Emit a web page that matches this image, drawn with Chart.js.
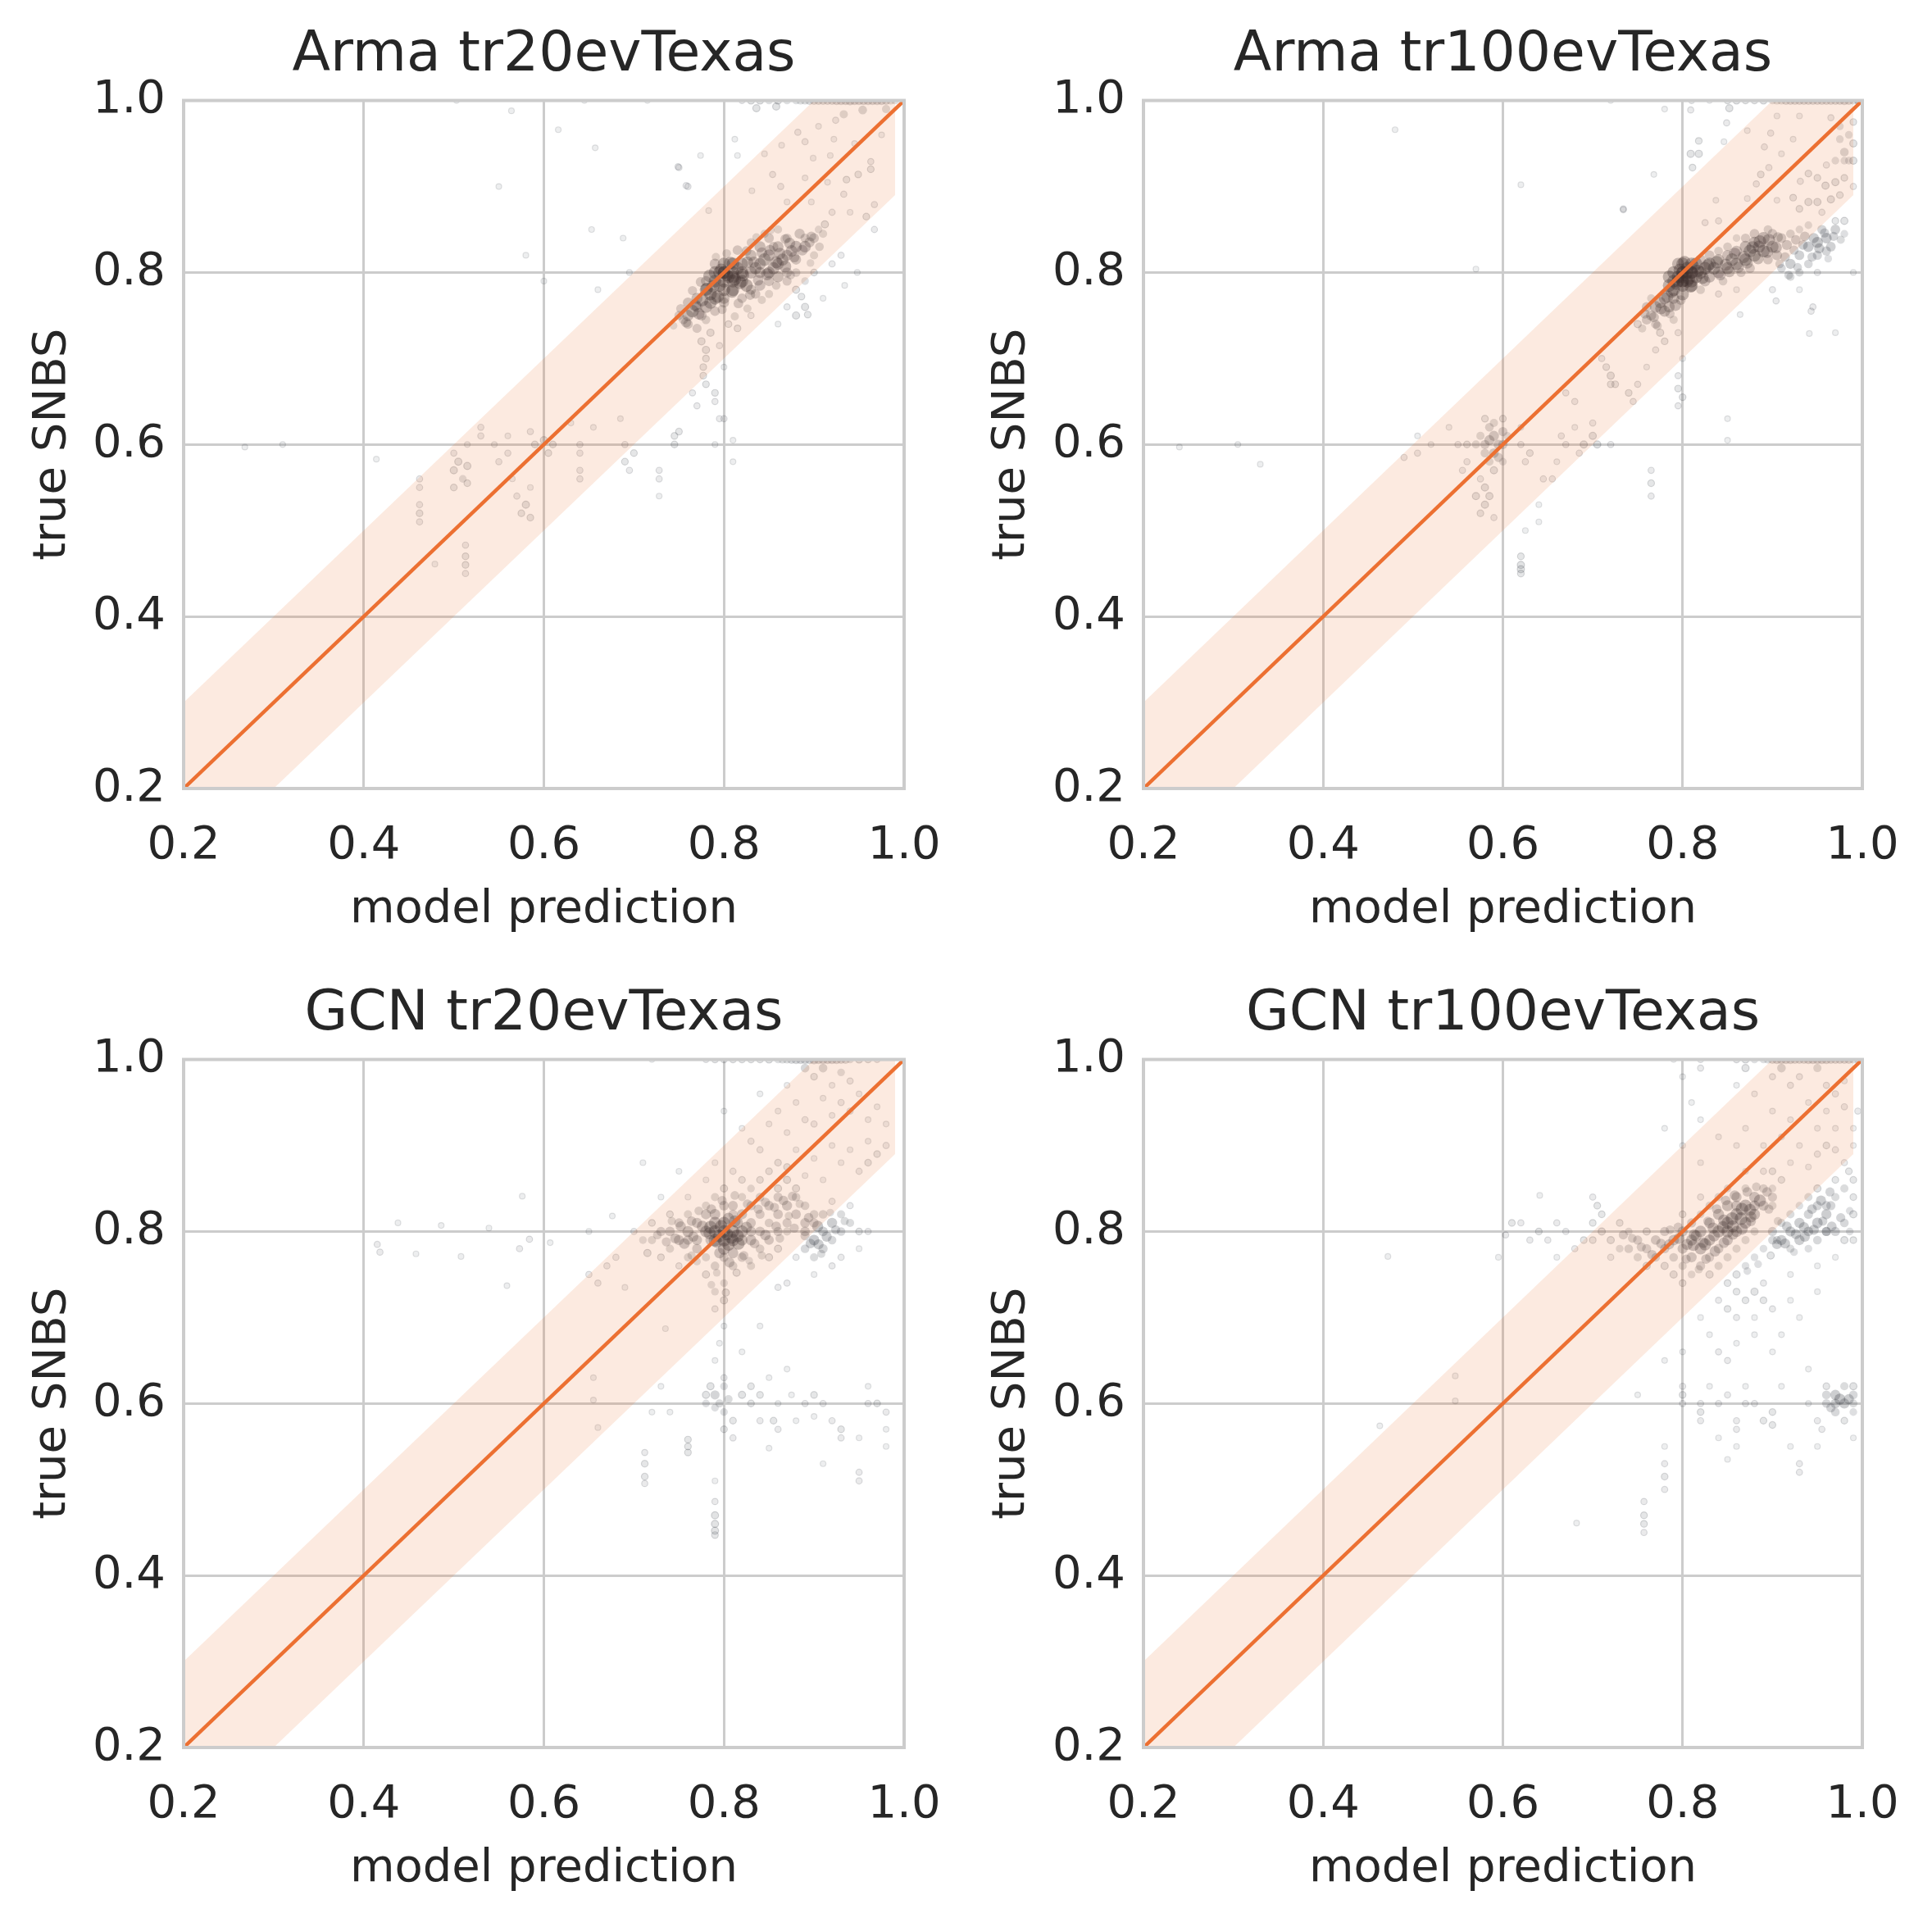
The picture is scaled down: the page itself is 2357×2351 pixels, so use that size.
<!DOCTYPE html>
<html>
<head>
<meta charset="utf-8">
<script src="https://cdn.jsdelivr.net/npm/chart.js@4.4.1/dist/chart.umd.min.js"></script>
<style>
  body { margin: 0; background: #ffffff; width: 2357px; height: 2351px; position: relative; overflow: hidden; }
  canvas { position: absolute; }
</style>
</head>
<body>
<canvas id="armaTr20" width="1187" height="1170" style="left:0px;top:0px"></canvas>
<canvas id="armaTr100" width="1187" height="1170" style="left:1170px;top:0px"></canvas>
<canvas id="gcnTr20" width="1187" height="1170" style="left:0px;top:1170px"></canvas>
<canvas id="gcnTr100" width="1187" height="1170" style="left:1170px;top:1170px"></canvas>
<script>
// axis ticks and the +-0.1 tolerance band around the ideal line
var tickValues = [0.2, 0.4, 0.6, 0.8, 1.0];
var axisMin = 0.2, axisMax = 1.0;
var bandMargin = 0.1;
var bandFrom = 0.1, bandTo = 0.99;

var panelTitles = ['Arma tr20evTexas', 'Arma tr100evTexas', 'GCN tr20evTexas', 'GCN tr100evTexas'];

// [model prediction, true SNBS]
var armaTr20 = [
  [0.80,0.80],[0.81,0.79],[0.79,0.79],[0.80,0.78],[0.82,0.80],[0.81,0.81],[0.79,0.80],[0.80,0.79],[0.81,0.78],[0.78,0.78],
  [0.82,0.79],[0.80,0.81],[0.79,0.77],[0.83,0.80],[0.81,0.80],[0.80,0.77],[0.78,0.79],[0.82,0.81],[0.805,0.795],[0.795,0.785],
  [0.815,0.805],[0.785,0.775],[0.825,0.785],[0.80,0.765],[0.79,0.81],[0.80,0.80],[0.81,0.795],[0.795,0.80],
  [0.803,0.797],[0.797,0.803],[0.812,0.792],[0.788,0.784],[0.807,0.811],[0.793,0.772],[0.818,0.788],[0.784,0.796],[0.826,0.812],[0.776,0.768],
  [0.768,0.762],[0.772,0.752],[0.758,0.742],[0.781,0.781],[0.809,0.778],[0.821,0.797],[0.833,0.812],[0.842,0.823],[0.851,0.826],[0.862,0.822],
  [0.873,0.834],[0.838,0.791],[0.848,0.798],[0.858,0.812],[0.868,0.807],[0.878,0.818],[0.887,0.826],[0.829,0.774],[0.816,0.764],[0.798,0.757],
  [0.803,0.822],[0.815,0.826],[0.791,0.818],[0.774,0.789],[0.765,0.779],[0.752,0.758],[0.744,0.738],[0.836,0.841],[0.852,0.849],[0.868,0.839],
  [0.884,0.845],[0.897,0.842],[0.912,0.856],[0.906,0.83],[0.896,0.811],[0.874,0.797],[0.858,0.785],[0.842,0.768],[0.826,0.758],[0.812,0.749],
  [0.77,0.76],[0.76,0.75],[0.78,0.76],[0.77,0.77],[0.76,0.74],[0.775,0.75],[0.785,0.765],[0.765,0.755],[0.755,0.745],[0.78,0.745],
  [0.77,0.735],[0.79,0.755],[0.76,0.765],[0.75,0.75],[0.785,0.73],
  [0.84,0.81],[0.85,0.82],[0.86,0.81],[0.84,0.80],[0.85,0.80],[0.87,0.82],[0.86,0.83],[0.88,0.83],[0.83,0.82],[0.84,0.83],
  [0.87,0.80],[0.85,0.79],[0.86,0.795],[0.88,0.815],[0.89,0.83],[0.89,0.84],[0.90,0.84],[0.87,0.84],[0.86,0.85],[0.85,0.84],
  [0.83,0.78],[0.84,0.785],[0.82,0.77],[0.835,0.775],[0.88,0.80],[0.90,0.82],[0.91,0.845],[0.85,0.775],[0.87,0.79],[0.83,0.835],
  [0.845,0.845],[0.825,0.825],[0.855,0.83],[0.875,0.825],[0.865,0.815],[0.845,0.815],[0.835,0.805],[0.855,0.805],[0.895,0.835],[0.905,0.85],
  [0.88,0.78],[0.89,0.79],[0.90,0.80],[0.87,0.76],[0.92,0.81],[0.93,0.82],[0.91,0.77],[0.86,0.74],[0.83,0.75],[0.89,0.76],
  [0.88,0.75],[0.948,0.80],[0.934,0.785],[0.886,0.772],[0.893,0.751],
  [0.775,0.72],[0.78,0.71],[0.78,0.70],[0.795,0.715],[0.80,0.69],[0.805,0.74],[0.815,0.735],
  [0.924,0.977],[0.933,0.984],[0.954,0.989],[0.963,0.929],[0.918,0.936],[0.89,0.952],[0.864,0.948],[0.845,0.938],[0.882,0.963],[0.899,0.933],
  [0.854,0.914],[0.89,0.91],[0.915,0.905],[0.936,0.908],[0.831,0.895],[0.863,0.90],[0.87,0.882],[0.897,0.882],[0.933,0.891],[0.949,0.914],
  [0.967,0.879],[0.958,0.865],[0.967,0.85],[0.812,0.955],[0.774,0.936],[0.75,0.922],[0.758,0.901],[0.836,0.991],[0.858,0.993],[0.815,0.936],
  [0.783,0.872],[0.922,0.955],[0.963,0.92],[0.975,0.96],[0.98,0.99],[0.945,0.95],[0.905,0.97],[0.94,0.87],[0.92,0.87],
  [0.82,1.0],[0.83,1.0],[0.84,1.0],[0.85,1.0],[0.86,1.0],[0.87,1.0],[0.88,1.0],[0.89,1.0],[0.90,1.0],[0.91,1.0],
  [0.92,1.0],[0.93,1.0],[0.94,1.0],[0.95,1.0],[0.96,1.0],[0.97,1.0],[0.98,1.0],[0.99,1.0],[0.885,1.0],[0.895,1.0],
  [0.905,1.0],[0.915,1.0],[0.925,1.0],[0.935,1.0],[0.945,1.0],[0.955,1.0],[0.965,1.0],[0.975,1.0],[0.985,1.0],
  [0.462,0.56],[0.462,0.55],[0.462,0.53],[0.462,0.52],[0.462,0.51],[0.479,0.461],[0.50,0.59],[0.50,0.57],[0.50,0.55],[0.505,0.58],
  [0.51,0.56],[0.515,0.575],[0.515,0.555],[0.515,0.60],[0.513,0.483],[0.513,0.47],[0.513,0.46],[0.513,0.45],[0.53,0.62],[0.53,0.61],
  [0.545,0.60],[0.55,0.58],[0.56,0.59],[0.56,0.61],[0.565,0.56],[0.57,0.54],[0.575,0.52],[0.58,0.53],[0.585,0.55],[0.585,0.515],
  [0.585,0.615],[0.59,0.60],[0.60,0.605],[0.61,0.60],[0.605,0.59],[0.64,0.60],[0.64,0.59],[0.64,0.57],[0.64,0.56],[0.63,0.625],
  [0.655,0.62],[0.685,0.63],[0.69,0.60],[0.69,0.58],[0.695,0.57],[0.70,0.59],[0.728,0.57],[0.728,0.56],[0.728,0.54],[0.745,0.61],
  [0.745,0.60],[0.75,0.615],[0.777,0.69],[0.777,0.68],[0.78,0.67],[0.79,0.66],[0.79,0.65],[0.79,0.60],[0.795,0.63],[0.80,0.63],
  [0.81,0.605],[0.81,0.58],[0.765,0.66],[0.77,0.645],
  [0.268,0.597],[0.31,0.60],[0.414,0.583],[0.55,0.90],[0.58,0.82],[0.60,0.79],[0.564,0.988],[0.616,0.966],[0.657,0.945],[0.653,0.85],
  [0.749,0.923],[0.76,0.90],[0.688,0.84],[0.695,0.80],[0.66,0.78],[0.715,1.0],[0.503,1.0],[0.645,1.0]
];

var armaTr100 = [
  [0.80,0.80],[0.80,0.79],[0.81,0.80],[0.79,0.79],[0.80,0.81],[0.81,0.79],[0.795,0.795],[0.805,0.805],[0.79,0.78],[0.81,0.81],
  [0.80,0.785],[0.815,0.795],[0.785,0.785],[0.82,0.80],[0.80,0.775],[0.79,0.80],[0.805,0.79],[0.795,0.81],[0.815,0.81],[0.785,0.795],
  [0.825,0.805],[0.80,0.795],[0.81,0.785],[0.79,0.77],[0.82,0.815],[0.80,0.80],[0.805,0.80],[0.795,0.79],[0.80,0.79],[0.81,0.80],
  [0.803,0.797],[0.797,0.803],[0.807,0.793],[0.793,0.787],[0.812,0.806],[0.788,0.778],[0.802,0.812],[0.817,0.802],[0.798,0.768],[0.783,0.772],
  [0.776,0.758],[0.768,0.748],[0.772,0.738],[0.758,0.752],[0.786,0.752],[0.792,0.762],[0.809,0.784],[0.822,0.794],[0.828,0.808],[0.838,0.812],
  [0.848,0.809],[0.858,0.822],[0.868,0.818],[0.878,0.829],[0.886,0.836],[0.896,0.838],[0.906,0.841],[0.916,0.832],[0.926,0.838],[0.936,0.842],
  [0.842,0.797],[0.852,0.801],[0.862,0.806],[0.872,0.811],[0.884,0.816],[0.894,0.824],[0.904,0.829],[0.914,0.818],[0.924,0.826],[0.934,0.832],
  [0.946,0.84],[0.958,0.846],[0.968,0.842],[0.952,0.828],[0.962,0.816],[0.976,0.838],[0.944,0.818],[0.928,0.806],[0.918,0.797],[0.908,0.81],
  [0.77,0.76],[0.775,0.765],[0.765,0.75],[0.78,0.77],[0.76,0.745],[0.78,0.755],[0.77,0.74],[0.785,0.76],[0.755,0.735],[0.765,0.77],
  [0.775,0.73],[0.79,0.745],[0.76,0.76],[0.78,0.72],[0.75,0.74],[0.795,0.73],[0.77,0.71],
  [0.83,0.81],[0.84,0.815],[0.85,0.82],[0.86,0.825],[0.87,0.83],[0.88,0.835],[0.89,0.84],[0.90,0.83],[0.84,0.80],[0.85,0.805],
  [0.86,0.81],[0.87,0.815],[0.88,0.82],[0.89,0.825],[0.83,0.795],[0.85,0.83],[0.87,0.84],[0.88,0.845],[0.86,0.84],[0.90,0.845],
  [0.91,0.84],[0.92,0.845],[0.84,0.825],[0.83,0.82],[0.825,0.79],[0.845,0.79],[0.865,0.80],[0.875,0.805],[0.895,0.815],[0.905,0.82],
  [0.855,0.815],[0.835,0.805],[0.875,0.825],[0.885,0.83],[0.895,0.85],[0.93,0.85],[0.94,0.855],[0.82,0.78],[0.84,0.775],[0.86,0.78],
  [0.91,0.805],[0.92,0.81],[0.93,0.82],[0.94,0.83],[0.95,0.835],[0.96,0.84],[0.97,0.85],[0.95,0.82],[0.96,0.825],[0.93,0.80],
  [0.97,0.86],[0.98,0.845],[0.94,0.81],[0.92,0.795],[0.955,0.85],[0.965,0.83],[0.98,0.86],[0.90,0.78],[0.99,0.80],[0.95,0.80],
  [0.93,0.78],[0.945,0.76],[0.97,0.73],[0.941,0.729],[0.943,0.755],[0.904,0.767],[0.864,0.751],
  [0.965,0.98],[0.975,0.97],[0.985,0.96],[0.98,0.94],[0.97,0.93],[0.99,0.95],[0.985,0.93],[0.975,0.955],[0.99,0.975],[0.96,0.925],
  [0.97,0.905],[0.98,0.91],[0.99,0.90],[0.965,0.885],[0.955,0.87],[0.975,0.89],[0.98,0.93],[0.99,0.93],
  [0.898,0.962],[0.91,0.938],[0.923,0.955],[0.905,0.982],[0.93,0.982],[0.872,0.965],[0.891,0.946],[0.896,0.922],[0.887,0.914],[0.882,0.903],
  [0.872,0.886],[0.905,0.884],[0.923,0.887],[0.931,0.906],[0.94,0.915],[0.95,0.91],[0.959,0.901],[0.94,0.882],[0.95,0.882],[0.93,0.874],
  [0.849,0.974],[0.846,0.952],[0.809,0.938],[0.818,0.938],[0.811,0.922],[0.809,0.989],[0.852,0.991],[0.818,0.953],[0.768,0.914],[0.734,0.874],
  [0.837,0.884],[0.825,0.858],[0.84,0.86],
  [0.81,1.0],[0.83,1.0],[0.85,1.0],[0.86,1.0],[0.87,1.0],[0.88,1.0],[0.89,1.0],[0.90,1.0],[0.91,1.0],[0.92,1.0],
  [0.93,1.0],[0.94,1.0],[0.95,1.0],[0.96,1.0],[0.97,1.0],[0.98,1.0],[0.99,1.0],[0.905,1.0],[0.915,1.0],[0.925,1.0],
  [0.935,1.0],[0.945,1.0],[0.955,1.0],[0.965,1.0],[0.975,1.0],[0.985,1.0],[0.995,1.0],[0.995,1.0],
  [0.58,0.63],[0.585,0.62],[0.59,0.61],[0.595,0.60],[0.58,0.60],[0.59,0.59],[0.585,0.58],[0.60,0.615],[0.575,0.61],[0.60,0.60],
  [0.59,0.625],[0.58,0.59],[0.595,0.585],[0.57,0.60],[0.585,0.605],[0.60,0.58],[0.59,0.57],[0.575,0.56],[0.58,0.55],[0.585,0.54],
  [0.58,0.53],[0.575,0.52],[0.59,0.515],[0.57,0.54],[0.60,0.63],[0.605,0.61],
  [0.56,0.58],[0.56,0.60],[0.555,0.57],[0.62,0.60],[0.625,0.58],[0.62,0.62],[0.63,0.59],[0.62,0.47],[0.62,0.46],[0.62,0.455],
  [0.62,0.45],[0.625,0.50],[0.64,0.53],[0.64,0.51],[0.645,0.56],[0.655,0.56],[0.66,0.58],[0.67,0.60],[0.665,0.61],[0.68,0.62],
  [0.685,0.59],[0.69,0.60],[0.70,0.61],[0.70,0.625],[0.705,0.60],[0.72,0.60],[0.715,0.69],[0.72,0.68],[0.725,0.67],[0.74,0.66],
  [0.745,0.65],[0.75,0.67],[0.76,0.69],[0.765,0.57],[0.765,0.555],[0.765,0.54],[0.795,0.68],[0.795,0.665],[0.80,0.655],[0.795,0.645],
  [0.80,0.70],[0.85,0.63],[0.85,0.605],[0.505,0.61],[0.505,0.59],[0.49,0.585],[0.52,0.60],[0.54,0.62],[0.55,0.60],[0.67,0.66],
  [0.68,0.65],[0.71,0.70],[0.72,0.67],
  [0.24,0.597],[0.305,0.60],[0.33,0.577],[0.48,0.966],[0.62,0.902],[0.57,0.804],[0.734,0.873],[0.72,1.0],[0.78,0.99]
];

var gcnTr20 = [
  [0.80,0.80],[0.80,0.79],[0.79,0.80],[0.81,0.80],[0.80,0.81],[0.79,0.79],[0.81,0.79],[0.78,0.80],[0.82,0.80],[0.80,0.78],
  [0.79,0.81],[0.80,0.77],[0.795,0.795],[0.805,0.785],[0.785,0.805],[0.815,0.81],[0.81,0.775],[0.785,0.79],
  [0.803,0.797],[0.797,0.806],[0.808,0.793],[0.792,0.788],[0.812,0.812],[0.784,0.798],[0.816,0.786],[0.776,0.806],[0.766,0.794],[0.756,0.786],
  [0.746,0.792],[0.736,0.788],[0.764,0.812],[0.772,0.824],[0.786,0.826],[0.798,0.836],[0.812,0.842],[0.826,0.832],[0.838,0.826],[0.846,0.834],
  [0.856,0.828],[0.866,0.836],[0.876,0.841],[0.884,0.832],[0.872,0.818],[0.858,0.806],[0.846,0.796],[0.834,0.786],[0.822,0.772],[0.806,0.764],
  [0.792,0.752],[0.786,0.738],[0.802,0.729],[0.814,0.752],[0.828,0.766],[0.842,0.772],[0.862,0.792],[0.878,0.804],[0.894,0.816],[0.904,0.806],
  [0.914,0.794],[0.924,0.802],[0.908,0.774],[0.896,0.786],[0.934,0.812],[0.918,0.822],[0.752,0.806],[0.742,0.812],[0.726,0.796],[0.764,0.772],
  [0.76,0.80],[0.77,0.81],[0.75,0.79],[0.74,0.80],[0.76,0.82],[0.77,0.79],[0.78,0.82],[0.78,0.83],[0.77,0.78],[0.76,0.77],
  [0.75,0.76],[0.74,0.78],[0.73,0.80],[0.72,0.79],[0.72,0.81],[0.74,0.82],[0.76,0.84],[0.79,0.84],[0.80,0.85],[0.81,0.83],
  [0.82,0.82],[0.83,0.81],[0.84,0.82],[0.85,0.83],[0.86,0.84],[0.87,0.83],[0.88,0.84],[0.89,0.83],[0.90,0.82],[0.86,0.82],
  [0.85,0.81],[0.84,0.80],[0.83,0.79],[0.84,0.78],[0.82,0.77],[0.83,0.76],[0.81,0.76],[0.79,0.76],[0.78,0.75],[0.80,0.74],
  [0.79,0.73],[0.80,0.72],[0.79,0.71],[0.78,0.77],[0.77,0.765],[0.82,0.84],[0.83,0.85],[0.84,0.84],[0.86,0.85],[0.87,0.86],
  [0.88,0.85],[0.85,0.79],[0.86,0.80],[0.87,0.81],[0.88,0.82],[0.89,0.81],[0.87,0.80],[0.86,0.78],[0.85,0.77],[0.83,0.83],
  [0.82,0.86],[0.84,0.86],[0.81,0.87],[0.78,0.86],[0.76,0.79],[0.75,0.81],[0.73,0.77],[0.71,0.79],[0.70,0.80],[0.715,0.775],
  [0.82,0.79],[0.83,0.80],[0.81,0.82],[0.80,0.83],[0.79,0.82],[0.815,0.795],[0.825,0.805],[0.805,0.815],[0.795,0.775],
  [0.89,0.80],[0.90,0.79],[0.91,0.80],[0.92,0.81],[0.90,0.81],[0.91,0.82],[0.89,0.78],[0.90,0.77],[0.92,0.79],[0.93,0.80],
  [0.91,0.78],[0.88,0.77],[0.93,0.82],[0.94,0.81],[0.95,0.80],[0.96,0.80],[0.94,0.83],[0.92,0.76],[0.93,0.77],[0.90,0.75],
  [0.87,0.74],[0.86,0.735],[0.95,0.78],[0.92,0.835],[0.89,0.795],[0.905,0.785],
  [0.90,0.98],[0.91,0.99],[0.92,0.97],[0.93,0.985],[0.94,0.975],[0.95,0.96],[0.91,0.955],[0.93,0.95],[0.87,0.97],[0.88,0.95],
  [0.86,0.94],[0.89,0.93],[0.85,0.925],[0.87,0.915],[0.90,0.925],[0.92,0.935],[0.94,0.94],[0.96,0.93],[0.97,0.945],[0.98,0.90],
  [0.98,0.925],[0.96,0.905],[0.94,0.895],[0.92,0.90],[0.90,0.885],[0.88,0.895],[0.86,0.88],[0.84,0.895],[0.83,0.905],[0.85,0.87],
  [0.87,0.875],[0.89,0.865],[0.93,0.88],[0.95,0.87],[0.96,0.88],[0.97,0.89],[0.91,0.86],[0.80,0.94],[0.79,0.88],[0.82,0.92],
  [0.84,0.96],[0.89,0.99],
  [0.78,1.0],[0.79,1.0],[0.80,1.0],[0.81,1.0],[0.82,1.0],[0.83,1.0],[0.84,1.0],[0.85,1.0],[0.86,1.0],[0.87,1.0],
  [0.88,1.0],[0.89,1.0],[0.90,1.0],[0.91,1.0],[0.92,1.0],[0.93,1.0],[0.94,1.0],[0.95,1.0],[0.96,1.0],[0.97,1.0],
  [0.865,1.0],[0.875,1.0],[0.885,1.0],[0.895,1.0],[0.905,1.0],[0.915,1.0],[0.925,1.0],[0.935,1.0],[0.72,1.0],
  [0.438,0.81],[0.415,0.785],[0.418,0.776],[0.458,0.774],[0.486,0.807],[0.508,0.771],[0.539,0.804],[0.573,0.78],[0.576,0.841],[0.584,0.791],
  [0.559,0.737],[0.607,0.787],[0.65,0.80],[0.676,0.818],[0.68,0.77],[0.71,0.88],[0.75,0.87],[0.73,0.84],[0.65,0.75],[0.66,0.74],
  [0.67,0.76],[0.69,0.735],
  [0.655,0.63],[0.655,0.604],[0.66,0.572],[0.72,0.59],[0.73,0.62],[0.735,0.687],
  [0.712,0.543],[0.712,0.53],[0.712,0.515],[0.712,0.507],[0.78,0.61],[0.78,0.60],[0.785,0.62],[0.79,0.61],[0.79,0.595],[0.795,0.60],
  [0.80,0.62],[0.80,0.59],[0.805,0.605],[0.81,0.58],[0.80,0.63],[0.79,0.65],[0.795,0.67],[0.80,0.69],[0.79,0.486],[0.79,0.47],
  [0.79,0.46],[0.79,0.452],[0.79,0.447],[0.79,0.51],[0.76,0.558],[0.76,0.543],[0.76,0.55],[0.82,0.61],[0.83,0.62],[0.83,0.60],
  [0.84,0.58],[0.84,0.61],[0.85,0.63],[0.855,0.58],[0.86,0.60],[0.86,0.57],[0.85,0.548],[0.87,0.64],[0.875,0.61],[0.89,0.60],
  [0.90,0.61],[0.90,0.585],[0.91,0.60],[0.92,0.58],[0.91,0.53],[0.93,0.57],[0.93,0.56],[0.95,0.56],[0.95,0.52],[0.95,0.51],
  [0.96,0.62],[0.96,0.60],[0.98,0.59],[0.98,0.57],[0.98,0.55],[0.97,0.60],[0.74,0.59],[0.80,0.57],[0.81,0.56],[0.88,0.58],
  [0.82,0.66],[0.84,0.69]
];

var gcnTr100 = [
  [0.80,0.80],[0.81,0.79],[0.82,0.80],[0.83,0.79],[0.84,0.80],[0.85,0.81],[0.86,0.82],[0.87,0.83],[0.88,0.84],[0.89,0.85],
  [0.82,0.78],[0.83,0.77],[0.84,0.78],[0.85,0.79],[0.86,0.80],[0.87,0.81],[0.88,0.82],[0.89,0.83],[0.90,0.84],[0.81,0.77],
  [0.80,0.76],[0.82,0.76],[0.84,0.76],[0.85,0.77],[0.86,0.78],[0.87,0.79],[0.88,0.80],[0.83,0.81],[0.84,0.82],[0.85,0.83],
  [0.86,0.84],[0.87,0.85],[0.84,0.84],[0.82,0.82],[0.81,0.81],[0.80,0.78],[0.79,0.79],[0.78,0.78],[0.79,0.77],[0.78,0.76],
  [0.77,0.77],[0.76,0.78],[0.75,0.77],[0.77,0.79],[0.76,0.80],[0.75,0.79],[0.74,0.78],[0.73,0.78],[0.72,0.79],[0.74,0.80],
  [0.73,0.81],[0.71,0.80],[0.70,0.79],[0.72,0.77],[0.79,0.75],[0.80,0.74],[0.81,0.75],[0.83,0.75],[0.85,0.80],[0.835,0.795],
  [0.845,0.805],[0.855,0.815],[0.865,0.815],[0.875,0.825],[0.825,0.785],[0.815,0.795],[0.805,0.785],[0.795,0.805],[0.785,0.785],[0.86,0.83],
  [0.88,0.83],[0.90,0.85],[0.91,0.86],[0.89,0.87],[0.87,0.87],[0.85,0.85],[0.83,0.83],[0.82,0.84],[0.80,0.82],[0.78,0.80],
  [0.76,0.76],[0.90,0.83],
  [0.813,0.796],[0.823,0.787],[0.834,0.804],[0.846,0.813],[0.856,0.806],[0.866,0.826],[0.876,0.817],[0.886,0.836],[0.846,0.787],[0.856,0.797],
  [0.866,0.803],[0.876,0.812],[0.836,0.777],[0.826,0.768],[0.812,0.784],[0.796,0.792],[0.786,0.802],[0.776,0.786],[0.766,0.773],[0.754,0.782],
  [0.744,0.792],[0.734,0.796],[0.804,0.768],[0.818,0.756],[0.828,0.812],[0.838,0.826],[0.848,0.836],[0.858,0.842],[0.872,0.846],[0.882,0.852],
  [0.894,0.846],[0.896,0.826],[0.906,0.812],[0.916,0.806],[0.926,0.797],[0.936,0.794],[0.946,0.802],[0.956,0.812],[0.966,0.806],[0.976,0.816],
  [0.986,0.824],[0.944,0.826],[0.954,0.836],[0.964,0.846],[0.914,0.786],[0.924,0.776],[0.898,0.772],[0.884,0.762],[0.872,0.754],[0.986,0.80],
  [0.90,0.80],[0.91,0.79],[0.92,0.80],[0.93,0.81],[0.94,0.82],[0.95,0.83],[0.96,0.83],[0.97,0.84],[0.96,0.82],[0.95,0.81],
  [0.94,0.80],[0.93,0.79],[0.92,0.78],[0.91,0.81],[0.90,0.79],[0.89,0.78],[0.88,0.77],[0.87,0.76],[0.86,0.75],[0.97,0.80],
  [0.98,0.81],[0.99,0.82],[0.98,0.79],[0.96,0.80],[0.95,0.79],[0.94,0.78],[0.93,0.83],[0.94,0.84],[0.95,0.85],[0.97,0.86],
  [0.98,0.85],[0.99,0.84],[0.92,0.82],[0.905,0.79],[0.905,0.785],[0.965,0.83],[0.96,0.80],[0.935,0.805],[0.99,0.79],[0.97,0.77],
  [0.95,0.76],[0.92,0.75],[0.89,0.74],[0.85,0.74],[0.88,0.73],[0.98,0.88],[0.99,0.86],[0.985,0.87],[0.99,0.90],[0.995,0.94],
  [0.99,0.92],
  [0.84,0.72],[0.85,0.71],[0.86,0.73],[0.87,0.72],[0.88,0.70],[0.86,0.70],[0.89,0.72],[0.90,0.71],[0.92,0.72],[0.93,0.70],
  [0.82,0.70],[0.83,0.68],[0.86,0.67],[0.88,0.68],[0.84,0.66],[0.80,0.66],[0.78,0.65],[0.85,0.65],[0.91,0.68],[0.95,0.73],
  [0.94,0.64],[0.90,0.66],
  [0.757,0.486],[0.757,0.47],[0.757,0.46],[0.757,0.45],[0.78,0.55],[0.78,0.53],[0.78,0.515],[0.78,0.50],[0.682,0.461],[0.80,0.60],
  [0.80,0.62],[0.80,0.61],[0.82,0.60],[0.82,0.59],[0.82,0.58],[0.83,0.62],[0.84,0.60],[0.84,0.56],[0.85,0.61],[0.86,0.55],
  [0.86,0.57],[0.86,0.58],[0.87,0.62],[0.87,0.60],[0.88,0.60],[0.89,0.58],[0.90,0.575],[0.90,0.59],[0.91,0.62],[0.92,0.55],
  [0.93,0.52],[0.93,0.53],[0.94,0.60],[0.95,0.55],[0.95,0.58],[0.96,0.60],[0.96,0.61],[0.96,0.62],[0.97,0.59],[0.97,0.60],
  [0.97,0.61],[0.98,0.60],[0.98,0.62],[0.98,0.58],[0.99,0.60],[0.99,0.61],[0.99,0.62],[0.99,0.59],[0.975,0.605],[0.965,0.595],
  [0.985,0.605],[0.955,0.57],[0.99,0.56],[0.85,0.535],[0.75,0.61],
  [0.472,0.771],[0.463,0.574],[0.547,0.632],[0.547,0.603],[0.641,0.842],[0.603,0.796],[0.61,0.81],[0.62,0.81],[0.64,0.80],[0.65,0.79],
  [0.66,0.81],[0.67,0.80],[0.68,0.78],[0.69,0.79],[0.66,0.77],[0.63,0.79],[0.70,0.81],[0.71,0.82],[0.595,0.77],[0.70,0.84],
  [0.705,0.83],
  [0.80,0.98],[0.82,0.99],[0.81,0.95],[0.82,0.93],[0.86,0.97],[0.87,0.99],[0.88,0.96],[0.90,0.98],[0.91,0.99],[0.92,0.97],
  [0.93,0.98],[0.95,0.99],[0.96,0.97],[0.97,0.96],[0.98,0.975],[0.90,0.94],[0.92,0.93],[0.94,0.95],[0.96,0.94],[0.97,0.92],
  [0.98,0.945],[0.87,0.92],[0.89,0.90],[0.91,0.91],[0.93,0.90],[0.95,0.89],[0.96,0.90],[0.97,0.895],[0.94,0.875],[0.92,0.88],
  [0.86,0.90],[0.84,0.91],[0.82,0.88],[0.78,0.92],[0.80,0.90],[0.90,0.87],[0.95,0.92],
  [0.86,1.0],[0.87,1.0],[0.88,1.0],[0.89,1.0],[0.90,1.0],[0.91,1.0],[0.92,1.0],[0.93,1.0],[0.94,1.0],[0.95,1.0],
  [0.96,1.0],[0.97,1.0],[0.98,1.0],[0.99,1.0],[1.0,1.0],[0.895,1.0],[0.905,1.0],[0.915,1.0],[0.925,1.0],[0.935,1.0],
  [0.945,1.0],[0.955,1.0],[0.965,1.0],[0.975,1.0],[0.985,1.0],[0.995,1.0],[0.82,1.0],[0.79,1.0]
];

var textColor = '#262626';
var gridColor = '#cccccc';
var lineColor = '#ec7032';
var bandColor = 'rgba(236, 112, 50, 0.15)';

Chart.defaults.font.family = 'DejaVu Sans';
Chart.defaults.color = textColor;

// the four spines like in the original figure
var frame = {
  id: 'frame',
  afterDatasetsDraw: function(chart) {
    var a = chart.chartArea, ctx = chart.ctx;
    ctx.save();
    ctx.strokeStyle = gridColor;
    ctx.lineWidth = 4;
    ctx.strokeRect(a.left, a.top, a.right - a.left, a.bottom - a.top);
    ctx.restore();
  }
};

function toPoints(pairs) {
  return pairs.map(function(p) { return {x: p[0], y: p[1]}; });
}

// the original has thousands of faint markers; grow and darken a marker by
// how many of the typed points sit close to it so the dense blobs read as a cloud
function neighbourCounts(pairs) {
  return pairs.map(function(p) {
    var n = 0;
    pairs.forEach(function(q) {
      var dx = p[0] - q[0], dy = p[1] - q[1];
      if (dx * dx + dy * dy < 0.018 * 0.018) n++;
    });
    return n - 1;
  });
}

function makePanel(id, title, pairs, yAxisWidth, rightPad) {
  var counts = neighbourCounts(pairs);
  var radius = counts.map(function(n) { return 3.5 + 0.3 * Math.min(n, 14); });
  var fill = counts.map(function(n) { return 'rgba(30, 35, 45, ' + Math.min(0.08 + 0.016 * n, 0.32).toFixed(3) + ')'; });
  var edge = counts.map(function(n) { return 'rgba(30, 35, 45, ' + Math.min(0.13 + 0.016 * n, 0.34).toFixed(3) + ')'; });
  var edgeWidth = counts.map(function(n) { return n < 4 ? 1.2 : 0; });
  var ctx = document.getElementById(id).getContext('2d');
  return new Chart(ctx, {
    type: 'scatter',
    data: {
      datasets: [
        {   // ideal prediction
            type: 'line',
            data: [{x: axisMin, y: axisMin}, {x: axisMax, y: axisMax}],
            borderColor: lineColor,
            borderWidth: 4.5,
            pointRadius: 0,
            fill: false,
            clip: 0,
            order: 0
        },
        {   // upper edge of the tolerance band
            type: 'line',
            data: [{x: bandFrom, y: bandFrom + bandMargin}, {x: bandTo, y: bandTo + bandMargin}],
            borderWidth: 0,
            pointRadius: 0,
            backgroundColor: bandColor,
            fill: '+1',
            clip: 0,
            order: 1
        },
        {   // lower edge
            type: 'line',
            data: [{x: bandFrom, y: bandFrom - bandMargin}, {x: bandTo, y: bandTo - bandMargin}],
            borderWidth: 0,
            pointRadius: 0,
            fill: false,
            clip: 0,
            order: 1
        },
        {
            data: toPoints(pairs),
            pointRadius: radius,
            borderWidth: edgeWidth,
            backgroundColor: fill,
            borderColor: edge,
            clip: 0,
            order: 2
        }
      ]
    },
    options: {
      responsive: false,
      animation: false,
      events: [],
      layout: { padding: { left: 0, right: rightPad, top: 0, bottom: 0 } },
      plugins: {
        legend: { display: false },
        tooltip: { enabled: false },
        title: {
          display: true,
          text: title,
          fullSize: false,
          color: textColor,
          font: { size: 68, weight: 'normal' },
          padding: { top: 28, bottom: 13 }
        }
      },
      scales: {
        x: {
          type: 'linear',
          min: axisMin,
          max: axisMax,
          afterBuildTicks: function(scale) { scale.ticks = tickValues.map(function(v) { return {value: v}; }); },
          afterFit: function(scale) { scale.height = 208; },
          ticks: { font: { size: 56 }, color: textColor, padding: 37, callback: function(v) { return v.toFixed(1); } },
          grid: { color: gridColor, lineWidth: 3, drawTicks: false },
          border: { color: gridColor, width: 4 },
          title: { display: true, text: 'model prediction', color: textColor, font: { size: 56 }, padding: { top: 0, bottom: 26 } }
        },
        y: {
          type: 'linear',
          min: axisMin,
          max: axisMax,
          afterBuildTicks: function(scale) { scale.ticks = tickValues.map(function(v) { return {value: v}; }); },
          afterFit: function(scale) { scale.width = yAxisWidth; },
          ticks: { font: { size: 56 }, color: textColor, padding: 22, callback: function(v) { return v.toFixed(1); } },
          grid: { color: gridColor, lineWidth: 3, drawTicks: false },
          border: { color: gridColor, width: 4 },
          title: { display: true, text: 'true SNBS', color: textColor, font: { size: 56 }, padding: { top: 31, bottom: 0 } }
        }
      }
    },
    plugins: [frame]
  });
}

window.onload = function() {
  makePanel('armaTr20', panelTitles[0], armaTr20, 224, 84);
  makePanel('armaTr100', panelTitles[1], armaTr100, 225, 85);
  makePanel('gcnTr20', panelTitles[2], gcnTr20, 224, 84);
  makePanel('gcnTr100', panelTitles[3], gcnTr100, 225, 85);
};
</script>
</body>
</html>
